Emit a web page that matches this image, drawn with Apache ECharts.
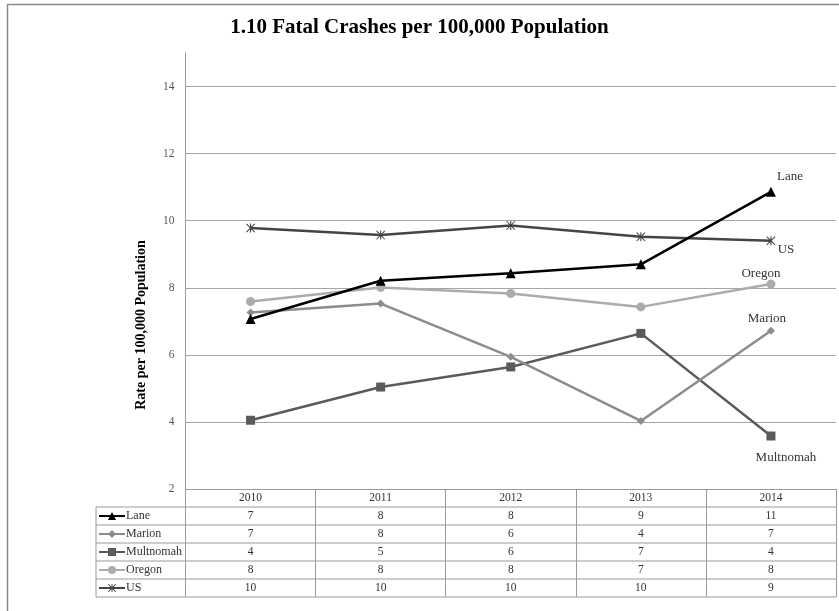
<!DOCTYPE html>
<html><head><meta charset="utf-8">
<script src="https://cdn.jsdelivr.net/npm/echarts@6/dist/echarts.min.js"></script>
<style>html,body{margin:0;padding:0;background:#fff}#c{width:839px;height:611px}</style>
</head><body><div id="c"></div>
<script>
const title = '1.10 Fatal Crashes per 100,000 Population';
const yAxisTitle = 'Rate per 100,000 Population';
const years = ['2010', '2011', '2012', '2013', '2014'];
const seriesNames = ['Lane', 'Marion', 'Multnomah', 'Oregon', 'US'];
const lane = [7.07, 8.21, 8.43, 8.70, 10.86];
const marion = [7.26, 7.53, 5.94, 4.03, 6.72];
const multnomah = [4.05, 5.04, 5.64, 6.64, 3.58];
const oregon = [7.59, 8.01, 7.83, 7.43, 8.11];
const us = [9.78, 9.57, 9.86, 9.52, 9.40];
const yMin = 2, yMax = 15, yStep = 2;

const values = [lane, marion, multnomah, oregon, us];
const asterisk = 'path://M44 0L56 0L56 100L44 100Z M8 0L100 92L92 100L0 8Z M92 0L100 8L8 100L0 92Z';
const styles = [
  {color: '#000000', symbol: 'triangle', size: 10, off: [19, -15]},
  {color: '#8c8c8c', symbol: 'diamond', size: 8, off: [-4, -12]},
  {color: '#5a5a5a', symbol: 'rect', size: 9, off: [15, 22]},
  {color: '#acacac', symbol: 'circle', size: 9, off: [-10, -11]},
  {color: '#454545', symbol: asterisk, size: 9, off: [15, 9]}
];
const serif = '"Liberation Serif", "DejaVu Serif", serif';

const series = seriesNames.map((name, s) => ({
  name: name,
  type: 'line',
  symbol: styles[s].symbol,
  symbolSize: styles[s].size,
  lineStyle: {color: styles[s].color, width: 2.5},
  itemStyle: {color: styles[s].color},
  z: 10 - s,
  data: values[s].map((v, i) => i === values[s].length - 1 ? {
    value: v,
    label: {show: true, formatter: name, position: 'inside', offset: styles[s].off,
      color: '#333', fontFamily: serif, fontSize: 13}
  } : v)
}));

const gridLeft = 185.5, gridRight = 836, gridTop = 53, gridBottom = 489, rowH = 18;
const tableLeft = 96;
const graphics = [
  {type: 'rect', shape: {x: 7.5, y: 4.5, width: 900, height: 700}, style: {fill: 'none', stroke: '#8a8a8a', lineWidth: 1.5}, silent: true},
  {type: 'text', x: 141, y: 325, rotation: Math.PI / 2,
    style: {text: yAxisTitle, font: 'bold 14px ' + serif, fill: '#000', textAlign: 'center', textVerticalAlign: 'middle'}},
  {type: 'line', shape: {x1: tableLeft, y1: gridBottom + rowH, x2: tableLeft, y2: gridBottom + rowH * 6}, style: {stroke: '#9a9a9a', lineWidth: 1}}
];
for (let k = 1; k <= 6; k++) {
  graphics.push({type: 'line', shape: {x1: tableLeft, y1: gridBottom + rowH * k, x2: gridRight, y2: gridBottom + rowH * k}, style: {stroke: '#9a9a9a', lineWidth: 1}});
}

const chart = echarts.init(document.getElementById('c'), null, {renderer: 'canvas'});
chart.setOption({
  backgroundColor: '#fff',
  animation: false,
  title: {text: title, left: 'center', top: 12,
    textStyle: {fontFamily: serif, fontSize: 21, fontWeight: 'bold', color: '#000'}},
  grid: {left: gridLeft, right: 839 - gridRight, top: gridTop, bottom: 611 - gridBottom, containLabel: false},
  legend: {
    data: seriesNames, orient: 'vertical', left: 98, top: gridBottom + rowH,
    itemWidth: 26, itemHeight: 10, itemGap: 0, padding: 0,
    textStyle: {fontFamily: serif, fontSize: 12, color: '#333', lineHeight: 18, padding: [0, 0, 0, -4]}
  },
  xAxis: {
    type: 'category', data: years, boundaryGap: true,
    axisLine: {show: true, lineStyle: {color: '#9a9a9a', width: 1}},
    axisTick: {show: true, interval: 0, length: rowH * 6, lineStyle: {color: '#9a9a9a', width: 1}},
    axisLabel: {
      interval: 0, margin: 0, lineHeight: rowH, fontFamily: serif, fontSize: 11.5, color: '#333',
      formatter: (val, idx) => [val].concat(values.map(arr => String(Math.round(arr[idx])))).join('\n')
    }
  },
  yAxis: {
    type: 'value', min: yMin, max: yMax, interval: yStep,
    axisLine: {show: true, lineStyle: {color: '#9a9a9a', width: 1}},
    axisTick: {show: false},
    axisLabel: {showMaxLabel: false, margin: 11, fontFamily: serif, fontSize: 11.5, color: '#555'},
    splitLine: {show: true, showMaxLine: false, lineStyle: {color: '#a6a6a6', width: 1}}
  },
  graphic: graphics,
  series: series
});
</script></body></html>
